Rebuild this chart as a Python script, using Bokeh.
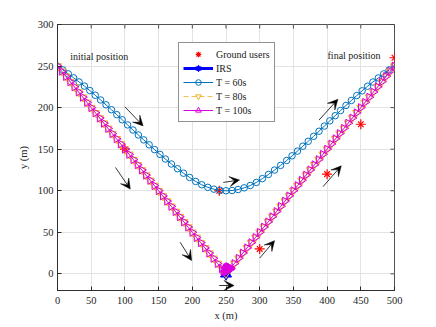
import numpy as np
from bokeh.plotting import figure
from bokeh.models import (Range1d, FixedTicker, Arrow, VeeHead, Label, Legend, LegendItem)
from bokeh.embed import file_html
from bokeh.resources import INLINE

FONT = "Liberation Serif"

# ---------------- data ----------------
x_ticks = [0, 50, 100, 150, 200, 250, 300, 350, 400, 450, 500]
y_ticks = [0, 50, 100, 150, 200, 250, 300]

users_x = [100, 240, 300, 400, 450, 500]
users_y = [150, 100, 30, 120, 180, 260]

irs_x = [250]
irs_y = [0]

x60 = [0, 8, 16, 24, 32, 40, 48, 56, 64, 72, 80, 88, 96, 104, 112, 120, 128, 136, 144, 152,
       160, 169, 178, 187, 196, 205, 214, 223, 232, 241, 250, 259, 268, 277, 286, 295, 304,
       313, 322, 331, 340, 348, 356, 364, 372, 380, 388, 396, 404, 412, 420, 428, 436, 444,
       452, 460, 468, 476, 484, 492, 500]
y60 = [250, 245.3, 240.6, 235.8, 230.9, 225.9, 220.5, 214.9, 209.2, 203.4, 197.5, 191.5,
       185.4, 179.2, 173.1, 167.1, 161.2, 155.3, 149.5, 143.8, 138.2, 132.2, 126.5, 121.1,
       116.0, 111.2, 107.2, 104.1, 101.9, 100.5, 100.0, 100.3, 101.5, 103.5, 106.3, 110.0,
       114.6, 119.6, 124.9, 130.5, 136.4, 142.0, 147.7, 153.6, 159.5, 165.5, 171.6, 177.8,
       184.1, 190.3, 196.5, 202.6, 208.6, 214.5, 220.2, 225.7, 230.8, 235.7, 240.6, 245.3,
       250.0]

x80 = [0, 6.25, 12.5, 18.75, 25, 31.25, 37.5, 43.75, 50, 56.25, 62.5, 68.75, 75, 81.25,
       87.5, 93.75, 100, 106.25, 112.5, 118.75, 125, 131.25, 137.5, 143.75, 150, 156.25,
       162.5, 168.75, 175, 181.25, 187.5, 193.75, 200, 206.25, 212.5, 218.75, 225, 231.25,
       237.5, 243.75, 250, 256.25, 262.5, 268.75, 275, 281.25, 287.5, 293.75, 300, 306.25,
       312.5, 318.75, 325, 331.25, 337.5, 343.75, 350, 356.25, 362.5, 368.75, 375, 381.25,
       387.5, 393.75, 400, 406.25, 412.5, 418.75, 425, 431.25, 437.5, 443.75, 450, 456.25,
       462.5, 468.75, 475, 481.25, 487.5, 493.75, 500]
y80 = [250, 243.75, 237.5, 231.25, 225, 218.75, 212.5, 206.25, 200, 193.75, 187.5, 181.25,
       175, 168.75, 162.5, 156.25, 150, 143.75, 137.5, 131.25, 125, 118.75, 112.5, 106.25,
       100, 93.75, 87.5, 81.25, 75, 68.75, 62.5, 56.25, 50, 43.75, 37.5, 31.25, 25, 18.75,
       12.5, 6.25, 0, 6.25, 12.5, 18.75, 25, 31.25, 37.5, 43.75, 50, 56.25, 62.5, 68.75, 75,
       81.25, 87.5, 93.75, 100, 106.25, 112.5, 118.75, 125, 131.25, 137.5, 143.75, 150,
       156.25, 162.5, 168.75, 175, 181.25, 187.5, 193.75, 200, 206.25, 212.5, 218.75, 225,
       231.25, 237.5, 243.75, 250]

x100 = [0, 6.25, 12.5, 18.75, 25, 31.25, 37.5, 43.75, 50, 56.25, 62.5, 68.75, 75, 81.25,
        87.5, 93.75, 100, 106.25, 112.5, 118.75, 125, 131.25, 137.5, 143.75, 150, 156.25,
        162.5, 168.75, 175, 181.25, 187.5, 193.75, 200, 206.25, 212.5, 218.75, 225, 231.25,
        237.5, 243.75,
        246, 247.5, 249, 250, 251, 252, 253, 254, 255, 256, 257, 256, 255, 254, 253, 252,
        251, 250, 249, 250.5, 252,
        256.25, 262.5, 268.75, 275, 281.25, 287.5, 293.75, 300, 306.25, 312.5, 318.75, 325,
        331.25, 337.5, 343.75, 350, 356.25, 362.5, 368.75, 375, 381.25, 387.5, 393.75, 400,
        406.25, 412.5, 418.75, 425, 431.25, 437.5, 443.75, 450, 456.25, 462.5, 468.75, 475,
        481.25, 487.5, 493.75, 500]
y100 = [250, 243.75, 237.5, 231.25, 225, 218.75, 212.5, 206.25, 200, 193.75, 187.5, 181.25,
        175, 168.75, 162.5, 156.25, 150, 143.75, 137.5, 131.25, 125, 118.75, 112.5, 106.25,
        100, 93.75, 87.5, 81.25, 75, 68.75, 62.5, 56.25, 50, 43.75, 37.5, 31.25, 25, 18.75,
        12.5, 6.25,
        3.5, 3, 2.5, 2.5, 3, 3.5, 4, 4.5, 5, 5.5, 6.5, 7.5, 8, 8.5, 8.5, 8, 7.5, 7, 6, 5.5, 5,
        6.25, 12.5, 18.75, 25, 31.25, 37.5, 43.75, 50, 56.25, 62.5, 68.75, 75, 81.25, 87.5,
        93.75, 100, 106.25, 112.5, 118.75, 125, 131.25, 137.5, 143.75, 150, 156.25, 162.5,
        168.75, 175, 181.25, 187.5, 193.75, 200, 206.25, 212.5, 218.75, 225, 231.25, 237.5,
        243.75, 250]

# direction arrows (start x, start y, end x, end y)
arrow_x0 = [100, 86, 182, 240, 246, 300, 388, 394]
arrow_y0 = [201, 128, 38, -14, 110, 19, 185, 105]
arrow_x1 = [127, 108, 199, 262, 270, 322, 416, 421]
arrow_y1 = [178, 102, 16, -14, 113, 40, 210, 130]

annot_text = ["initial position", "final position"]
annot_x = [62, 440]
annot_y = [261, 263]

# ---------------- figure ----------------
X_MIN, X_MAX, Y_MIN, Y_MAX = 0, 500, -20, 300
p = figure(width=436, height=327, output_backend="svg", toolbar_location=None,
           x_range=Range1d(X_MIN, X_MAX), y_range=Range1d(Y_MIN, Y_MAX),
           min_border_left=57, min_border_right=42, min_border_top=24,
           min_border_bottom=37, x_axis_label="x (m)", y_axis_label="y (m)")
p.background_fill_color = "white"
p.border_fill_color = "white"
p.outline_line_color = "#262626"
p.outline_line_width = 0.8

AX = "#262626"
p.xaxis.ticker = FixedTicker(ticks=x_ticks)
p.yaxis.ticker = FixedTicker(ticks=y_ticks)
for ax in [p.xaxis[0], p.yaxis[0]]:
    ax.major_tick_in = 4
    ax.major_tick_out = 0
    ax.minor_tick_line_color = None
    ax.axis_line_color = AX
    ax.axis_line_width = 0.8
    ax.major_tick_line_color = AX
    ax.major_label_text_font = FONT
    ax.major_label_text_font_size = "10.5px"
    ax.major_label_text_color = AX
    ax.axis_label_text_font = FONT
    ax.axis_label_text_font_size = "10.5px"
    ax.axis_label_text_font_style = "normal"
    ax.axis_label_text_color = AX
p.xaxis.major_label_standoff = 6
p.xaxis.axis_label_standoff = 3
p.yaxis.major_label_standoff = 4
p.yaxis.axis_label_standoff = 6

p.xgrid.grid_line_color = "#e3e3e3"
p.ygrid.grid_line_color = "#e3e3e3"
p.xgrid.ticker = FixedTicker(ticks=x_ticks)
p.ygrid.ticker = FixedTicker(ticks=y_ticks)

# inward tick marks on the top and right edges of the box (4 px long)
tick_dy = 4 / 266 * (Y_MAX - Y_MIN)
tick_dx = 4 / 337 * (X_MAX - X_MIN)
p.segment(x0=x_ticks, y0=[Y_MAX] * len(x_ticks), x1=x_ticks,
          y1=[Y_MAX - tick_dy] * len(x_ticks), line_color=AX, line_width=0.8)
p.segment(x0=[X_MAX] * len(y_ticks), y0=y_ticks, x1=[X_MAX - tick_dx] * len(y_ticks),
          y1=y_ticks, line_color=AX, line_width=0.8)

RED = "#FF0000"
BLUE = "#0000FF"
C60 = "#0072BD"
C80 = "#EDB120"
C100 = "#DD00DD"

# ground users (8-arm asterisk)
gu1 = p.scatter(users_x, users_y, marker="cross", size=10, line_color=RED, line_width=1.2)
gu2 = p.scatter(users_x, users_y, marker="x", size=8, line_color=RED, line_width=1.2)

# IRS (hexagram from two triangles)
irs_l = p.line(irs_x, irs_y, line_color=BLUE, line_width=3)
irs1 = p.scatter(irs_x, irs_y, marker="triangle", size=11, fill_color=BLUE, line_color=BLUE)
irs2 = p.scatter(irs_x, irs_y, marker="inverted_triangle", size=11, fill_color=BLUE,
                 line_color=BLUE)

l60 = p.line(x60, y60, line_color=C60, line_width=1)
m60 = p.scatter(x60, y60, marker="circle", size=6.5, fill_color=None, line_color=C60,
                line_width=1)

l80 = p.line(x80, y80, line_color=C80, line_width=1, line_dash="5 3", line_alpha=0.8)
m80 = p.scatter(x80, y80, marker="inverted_triangle", size=8, fill_color=None,
                line_color=C80, line_width=1)

l100 = p.line(x100, y100, line_color=C100, line_width=1)
m100 = p.scatter(x100, y100, marker="triangle", angle=-np.pi / 2, size=8, fill_color=None,
                 line_color=C100, line_width=1)

for i in range(len(arrow_x0)):
    p.add_layout(Arrow(x_start=arrow_x0[i], y_start=arrow_y0[i], x_end=arrow_x1[i],
                       y_end=arrow_y1[i], line_color="black", line_width=0.8,
                       end=VeeHead(size=10, fill_color="black", line_color="black",
                                   line_width=0.5)))

for t, x, y in zip(annot_text, annot_x, annot_y):
    p.add_layout(Label(x=x, y=y, text=t, text_font=FONT, text_font_size="10px",
                       text_color="#1a1a1a", text_align="center", text_baseline="middle"))

legend = Legend(items=[
    LegendItem(label="Ground users", renderers=[gu1, gu2]),
    LegendItem(label="IRS", renderers=[irs_l, irs1, irs2]),
    LegendItem(label="T = 60s", renderers=[l60, m60]),
    LegendItem(label="T = 80s", renderers=[l80, m80]),
    LegendItem(label="T = 100s", renderers=[l100, m100]),
], location=(121, 168))
legend.label_text_font = FONT
legend.label_text_font_size = "10px"
legend.label_text_color = "#1a1a1a"
legend.glyph_width = 30
legend.glyph_height = 14
legend.label_height = 14
legend.spacing = 0
legend.padding = 4
legend.margin = 0
legend.label_standoff = 3
legend.border_line_color = AX
legend.border_line_width = 0.8
legend.background_fill_alpha = 1.0
p.add_layout(legend)

open("out.html", "w").write(file_html(p, INLINE))
